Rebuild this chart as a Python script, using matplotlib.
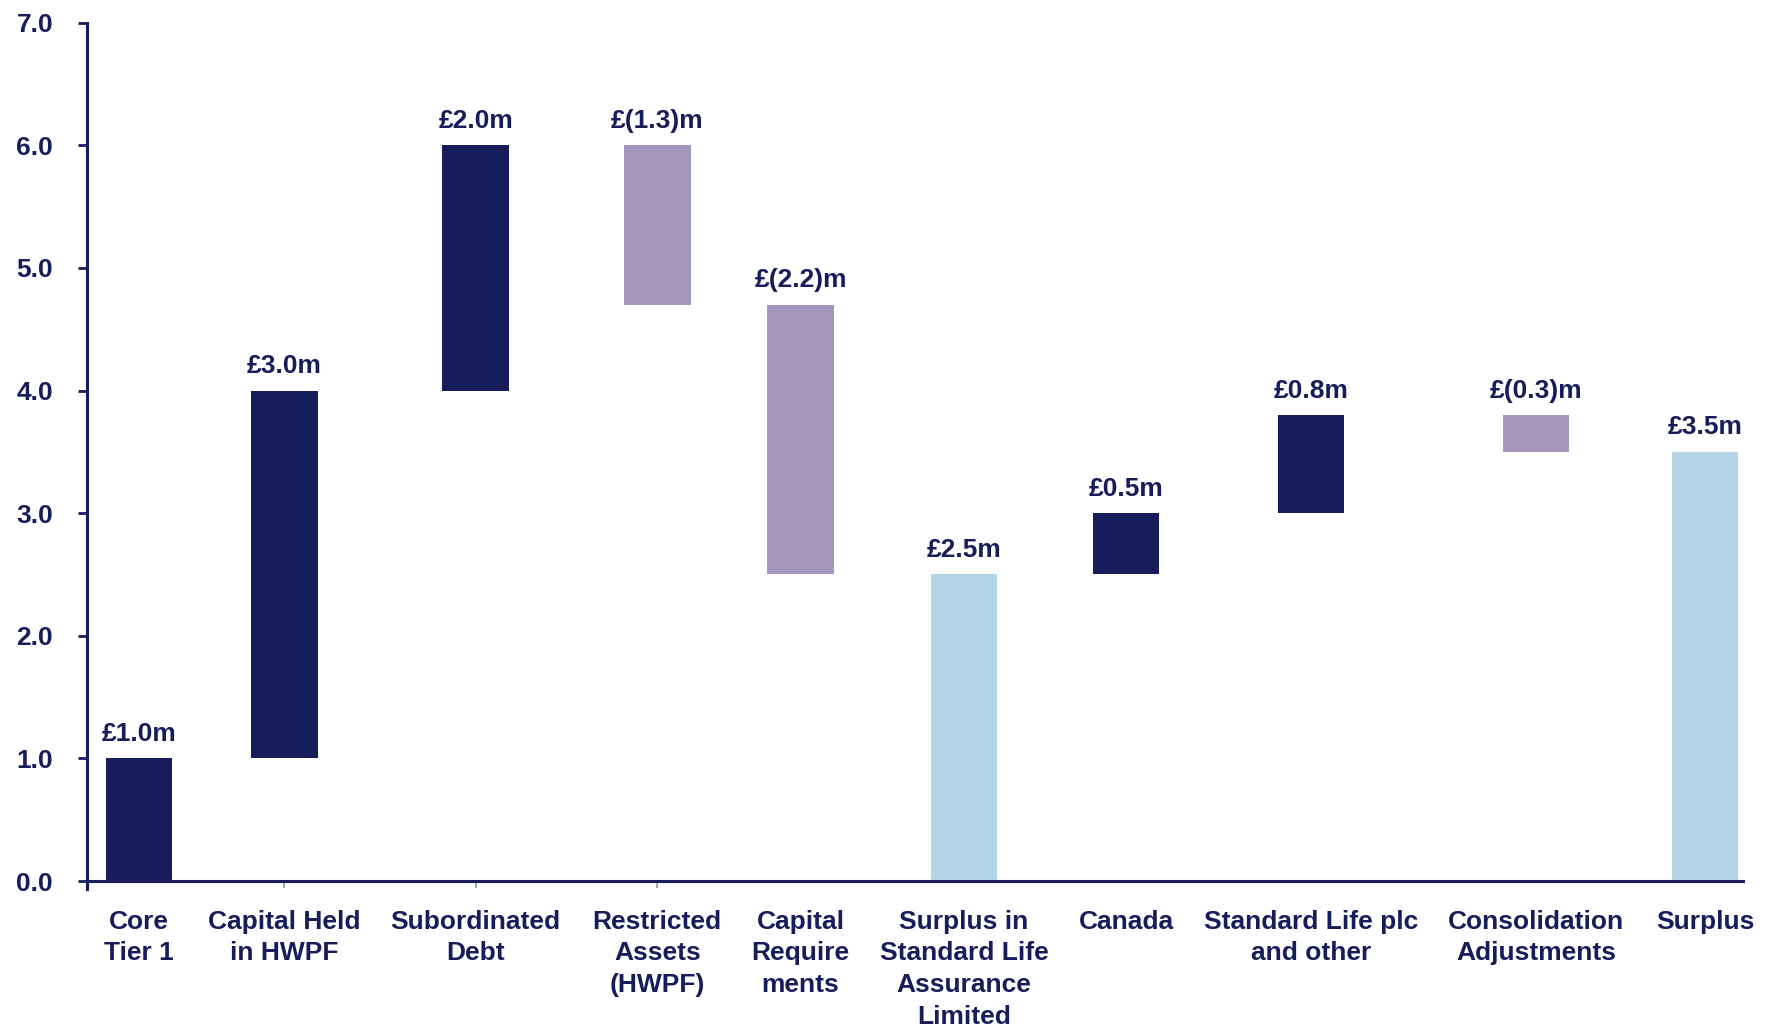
import matplotlib
matplotlib.use("Agg")
import matplotlib.pyplot as plt

plt.rcParams['font.family'] = ['Liberation Sans', 'DejaVu Sans']
plt.rcParams['font.weight'] = 'bold'
plt.rcParams['font.size'] = 19

# ---- data ----
categories = ["Core\nTier 1", "Capital Held\nin HWPF", "Subordinated\nDebt",
              "Restricted\nAssets\n(HWPF)", "Capital\nRequire\nments",
              "Surplus in\nStandard Life\nAssurance\nLimited", "Canada",
              "Standard Life plc\nand other", "Consolidation\nAdjustments", "Surplus"]
changes = [1.0, 3.0, 2.0, -1.3, -2.2, 2.5, 0.5, 0.8, -0.3, 3.5]
kinds = ["inc", "inc", "inc", "dec", "dec", "total", "inc", "inc", "dec", "total"]
value_labels = ["£1.0m", "£3.0m", "£2.0m", "£(1.3)m", "£(2.2)m",
                "£2.5m", "£0.5m", "£0.8m", "£(0.3)m", "£3.5m"]
yticks = [0.0, 1.0, 2.0, 3.0, 4.0, 5.0, 6.0, 7.0]

# ---- layout (positions/styles) ----
x_pos = [1.23, 2.52, 4.215, 5.825, 7.095, 8.545, 9.98, 11.62, 13.615, 15.115]
bar_width = 0.59
navy = "#161D5A"
colors = {"inc": "#161D5A", "dec": "#A596BE", "total": "#B4D5E8"}
fs = 19

# compute waterfall bottoms
bottoms, heights = [], []
running = 0.0
for c, k in zip(changes, kinds):
    if k == "total":
        bottoms.append(0.0)
        heights.append(c)
        running = c
    else:
        bottoms.append(running)
        heights.append(c)
        running += c

fig = plt.figure(figsize=(17.69, 10.29), dpi=100)
ax = fig.add_axes([0.0492, 0.136, 0.9361, 0.842])

bars = ax.bar(x_pos, heights, bottom=bottoms, width=bar_width,
              color=[colors[k] for k in kinds], linewidth=0, zorder=2)

for xp, b, h, lab in zip(x_pos, bottoms, heights, value_labels):
    top = max(b, b + h)
    ax.annotate(lab, (xp, top), xytext=(0, 9), textcoords="offset points",
                ha="center", va="bottom", fontsize=fs, fontweight="bold",
                color=navy)

ax.set_xlim(0.77, 15.45)
ax.set_ylim(-0.065, 7.0)
ax.set_yticks(yticks)
ax.set_yticklabels([f"{v:.1f}" for v in yticks])

ax.xaxis.remove_overlapping_locs = False
ax.set_xticks(x_pos)
ax.set_xticks(x_pos[1:4], minor=True)
ax.set_xticklabels([])
ax.tick_params(axis="x", which="major", length=0)
ax.tick_params(axis="x", which="minor", length=5, width=1.5, color="#A8A8A8",
               direction="out")
ax.tick_params(axis="y", length=6.5, width=2, color=navy, pad=18,
               labelsize=fs, labelcolor=navy)

# category labels below the axis (x in data, y in points below the axis)
xform = ax.get_xaxis_transform()
for xp, cat in zip(x_pos, categories):
    ax.annotate(cat, (xp, 0), xycoords=xform, xytext=(0, -15),
                textcoords="offset points", ha="center", va="top",
                fontsize=fs, fontweight="bold", color=navy,
                linespacing=1.4, annotation_clip=False)

for s in ["top", "right"]:
    ax.spines[s].set_visible(False)
ax.spines["bottom"].set_position(("data", 0))
ax.spines["bottom"].set_color(navy)
ax.spines["bottom"].set_linewidth(2.2)
ax.spines["bottom"].set_zorder(3)
ax.spines["left"].set_color(navy)
ax.spines["left"].set_linewidth(2.2)

fig.savefig("out.png", dpi=100)
